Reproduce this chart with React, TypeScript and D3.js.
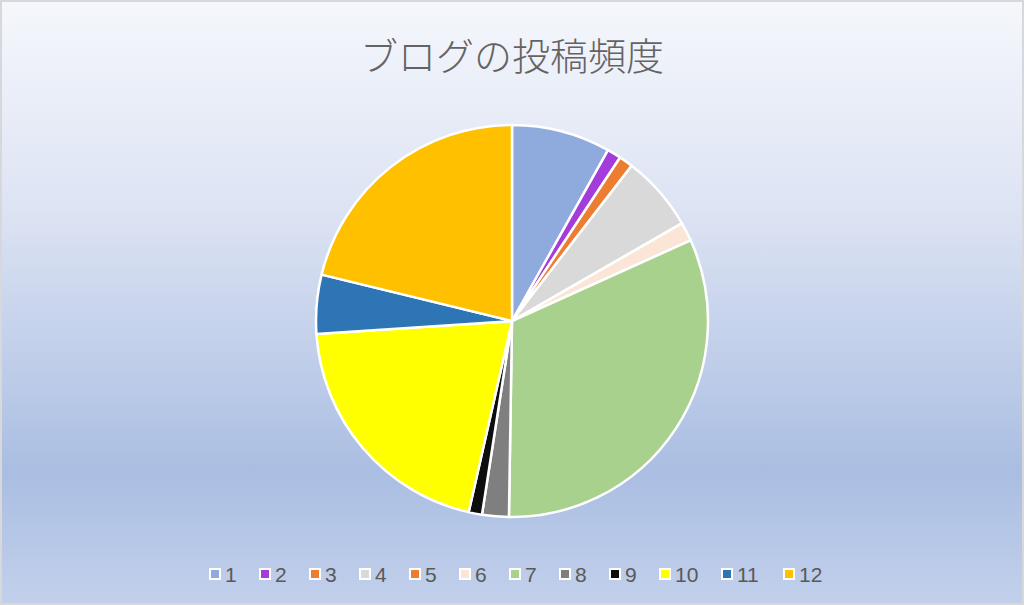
import React, { useRef, useEffect } from "react";
import * as d3 from "d3";

const months = ["1", "2", "3", "4", "5", "6", "7", "8", "9", "10", "11", "12"];
const posts = [16.3, 2.3, 2.3, 12.5, 0, 3.1, 64, 4.4, 2.2, 40.8, 9.7, 42.4];
const colors = [
  "#8FAADC", "#A43CDC", "#ED7D31", "#D9D9D9", "#ED7D31", "#FBE5D6",
  "#A9D18E", "#7F7F7F", "#0D0D0D", "#FFFF00", "#2E75B6", "#FFC000",
];
const title = "ブログの投稿頻度";

export default function App() {
  const svgRef = useRef(null);
  const width = 1024;
  const height = 605;

  useEffect(() => {
    const svg = d3.select(svgRef.current);
    svg.selectAll("*").remove();

    const defs = svg.append("defs");
    const grad = defs
      .append("linearGradient")
      .attr("id", "bg")
      .attr("x1", 0)
      .attr("y1", 0)
      .attr("x2", 0)
      .attr("y2", 1);
    [
      ["0%", "#F5F7FC"],
      ["35%", "#DCE3F3"],
      ["78%", "#AABEE2"],
      ["100%", "#C2D0EB"],
    ].forEach(([o, c]) => grad.append("stop").attr("offset", o).attr("stop-color", c));

    svg
      .append("rect")
      .attr("x", 1)
      .attr("y", 1)
      .attr("width", width - 2)
      .attr("height", height - 2)
      .attr("fill", "url(#bg)")
      .attr("stroke", "#D6D8DC")
      .attr("stroke-width", 2);

    svg
      .append("text")
      .attr("x", width / 2)
      .attr("y", 70)
      .attr("text-anchor", "middle")
      .attr("fill", "#636363")
      .attr("font-family", "'Noto Sans CJK JP', sans-serif")
      .attr("font-weight", 300)
      .attr("font-size", 38)
      .text(title);

    const cx = 512;
    const cy = 321;
    const r = 196;

    const pie = d3
      .pie<number>()
      .sort(null)
      .value((d) => d);
    const arc = d3.arc<d3.PieArcDatum<number>>().innerRadius(0).outerRadius(r);

    svg
      .append("g")
      .attr("transform", `translate(${cx},${cy})`)
      .selectAll("path")
      .data(pie(posts))
      .join("path")
      .attr("d", arc)
      .attr("fill", (_, i) => colors[i])
      .attr("stroke", "#fff")
      .attr("stroke-width", 2.5)
      .attr("stroke-linejoin", "round");

    // legend
    const itemW = (s: string) => 38 + 12 * s.length;
    let x = 215;
    const ly = 574;
    const legend = svg.append("g");
    months.forEach((m, i) => {
      legend
        .append("rect")
        .attr("x", x - 5)
        .attr("y", ly - 5)
        .attr("width", 10)
        .attr("height", 10)
        .attr("fill", colors[i])
        .attr("stroke", "#fff")
        .attr("stroke-width", 2);
      legend
        .append("text")
        .attr("x", x + 10)
        .attr("y", ly + 7.5)
        .attr("fill", "#595959")
        .attr("font-family", "'Liberation Sans', sans-serif")
        .attr("font-size", 21)
        .text(m);
      x += itemW(m);
    });
  }, []);

  return (
    <svg
      ref={svgRef}
      width={width}
      height={height}
      viewBox={`0 0 ${width} ${height}`}
      style={{ position: "absolute", left: 0, top: 0 }}
    />
  );
}
